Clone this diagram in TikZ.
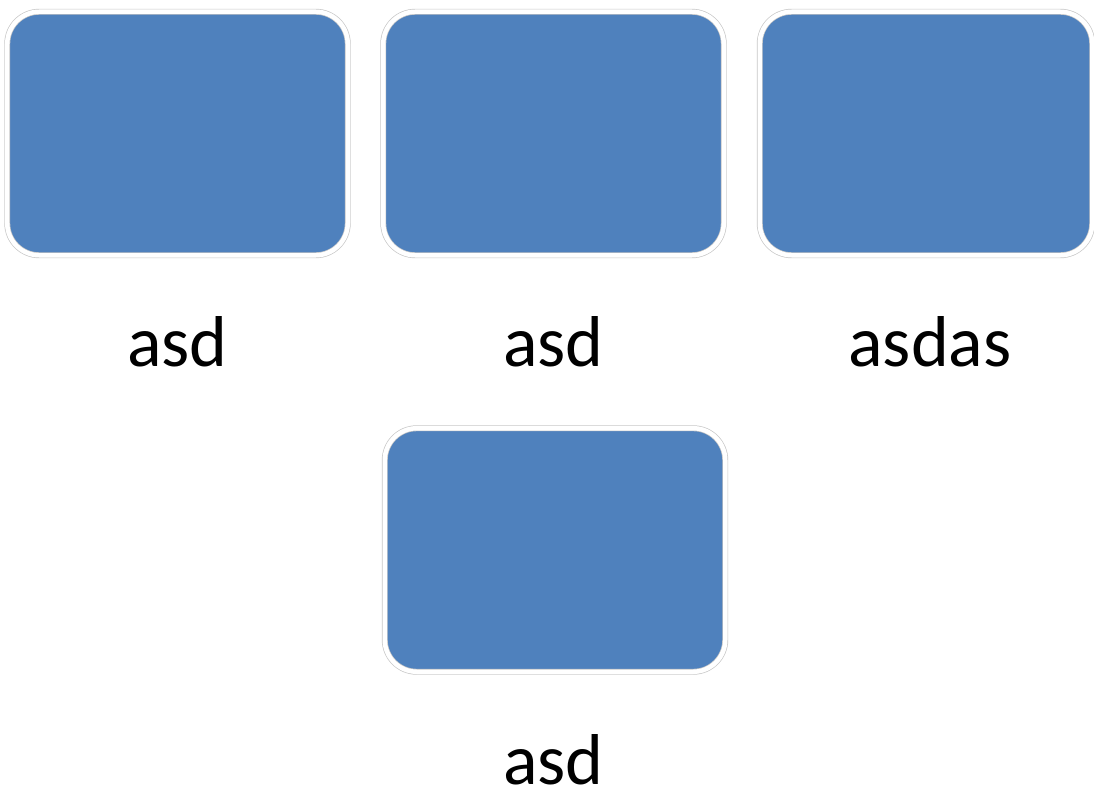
\documentclass[tikz,border=0pt]{standalone}
\usepackage{fontspec}
\setmainfont{Carlito}
\definecolor{boxblue}{HTML}{4F81BD}
\begin{document}
\begin{tikzpicture}[x=1bp,y=-1bp,
  bluebox/.style={rectangle, rounded corners=32bp, fill=boxblue,
    draw=black!22, line width=0.7bp, double=white, double distance=4.5bp,
    inner sep=0pt, minimum width=340.5bp, minimum height=243.5bp},
  lbl/.style={anchor=base, inner sep=0pt, font=\fontsize{72bp}{80bp}\selectfont}]
\useasboundingbox (0,0) rectangle (1094,785);
\node[bluebox] (b1) at (177.5,133.5) {};
\node[bluebox] (b2) at (553.5,133.5) {};
\node[bluebox, minimum width=332.5bp] (b3) at (926,133.5) {};
\node[bluebox] (b4) at (555,550) {};
\node[lbl] (l1) at (177.5,366) {asd};
\node[lbl] (l2) at (553.5,366) {asd};
\node[lbl] (l3) at (930,366) {asdas};
\node[lbl] (l4) at (553.5,784) {asd};
\end{tikzpicture}
\end{document}
